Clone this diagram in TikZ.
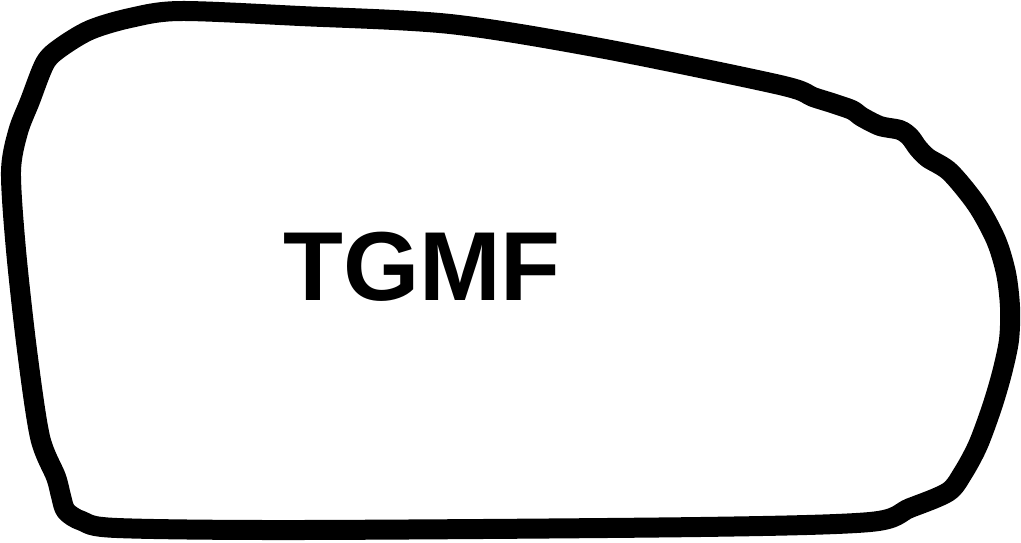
\documentclass[tikz,border=0pt]{standalone}
\usepackage{fontspec}
\setmainfont{Liberation Sans}
\begin{document}
\begin{tikzpicture}[x=1pt,y=-1pt,
  outline/.style={line width=20pt,line join=round,black},
  label/.style={font=\bfseries\fontsize{98}{98}\selectfont,inner sep=0pt}]
\useasboundingbox (0,0) rectangle (1021,542);
\draw[outline] plot[smooth cycle,tension=0.5] coordinates {
 (45,63) (60,48) (90,30) (130,18) (180,11) (300,16) (450,24) (600,48) (780,85)
 (813,97) (832,103) (852,110) (862,117) (880,126) (900,130) (910,137) (918,148) (928,158) (950,172)
 (977,205) (996,240) (1006,273) (1010,307) (1009,340) (1002,373) (992,407) (978,445) (963,473) (948,492)
 (910,508) (870,522) (700,527) (300,530) (117,528) (82,521) (66,511) (61,496) (56,477) (40,437)
 (27,350) (16,250) (11,172) (18,132) (30,101)};
\node[label] (t) at (422,267) {TGMF};
\end{tikzpicture}
\end{document}
